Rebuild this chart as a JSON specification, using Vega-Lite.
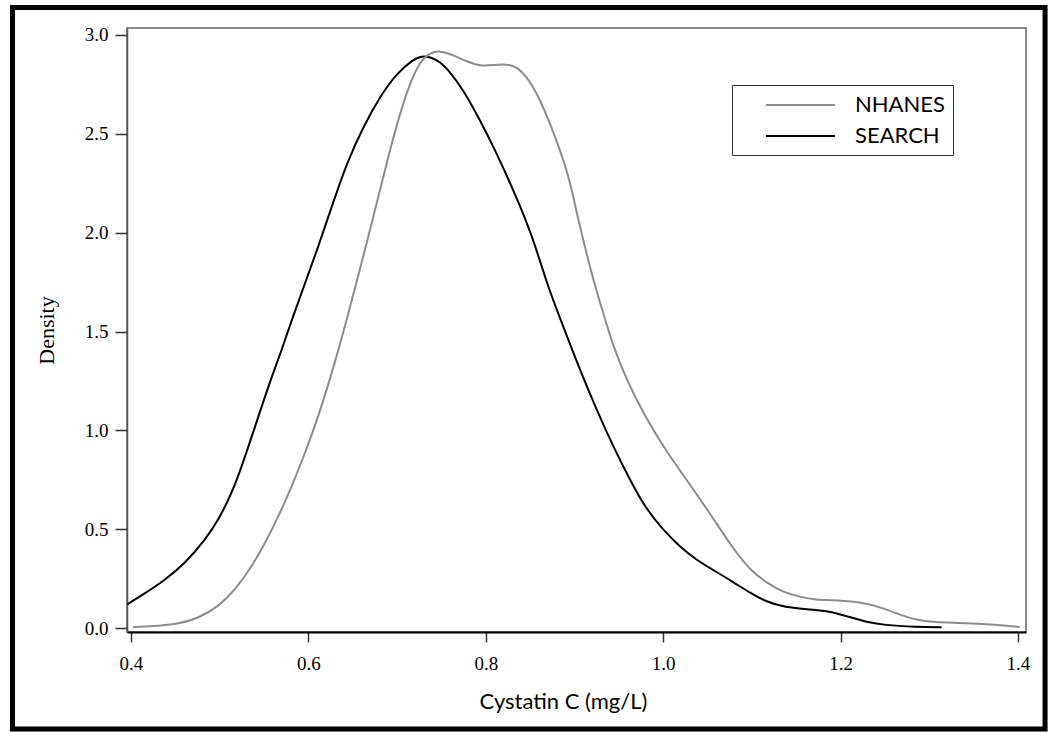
{
  "$schema": "https://vega.github.io/schema/vega-lite/v6.json",
  "width": 899,
  "height": 604,
  "autosize": {"type": "none"},
  "padding": {"left": 127, "top": 28, "right": 25, "bottom": 100},
  "background": "white",
  "config": {"view": {"stroke": "#666666", "strokeWidth": 1.5}},
  "datasets": {
    "curves": [
      {"x": 0.396, "d": 0.12, "s": "SEARCH"},
      {"x": 0.4158, "d": 0.1755, "s": "SEARCH"},
      {"x": 0.4383, "d": 0.243, "s": "SEARCH"},
      {"x": 0.4609, "d": 0.327, "s": "SEARCH"},
      {"x": 0.4834, "d": 0.445, "s": "SEARCH"},
      {"x": 0.4985, "d": 0.546, "s": "SEARCH"},
      {"x": 0.5135, "d": 0.681, "s": "SEARCH"},
      {"x": 0.5248, "d": 0.816, "s": "SEARCH"},
      {"x": 0.5361, "d": 0.968, "s": "SEARCH"},
      {"x": 0.5473, "d": 1.12, "s": "SEARCH"},
      {"x": 0.5586, "d": 1.271, "s": "SEARCH"},
      {"x": 0.5699, "d": 1.406, "s": "SEARCH"},
      {"x": 0.5812, "d": 1.558, "s": "SEARCH"},
      {"x": 0.5962, "d": 1.744, "s": "SEARCH"},
      {"x": 0.6112, "d": 1.929, "s": "SEARCH"},
      {"x": 0.6263, "d": 2.131, "s": "SEARCH"},
      {"x": 0.6432, "d": 2.351, "s": "SEARCH"},
      {"x": 0.6619, "d": 2.536, "s": "SEARCH"},
      {"x": 0.6807, "d": 2.688, "s": "SEARCH"},
      {"x": 0.6995, "d": 2.806, "s": "SEARCH"},
      {"x": 0.7183, "d": 2.877, "s": "SEARCH"},
      {"x": 0.7277, "d": 2.894, "s": "SEARCH"},
      {"x": 0.7371, "d": 2.89, "s": "SEARCH"},
      {"x": 0.7484, "d": 2.865, "s": "SEARCH"},
      {"x": 0.7596, "d": 2.814, "s": "SEARCH"},
      {"x": 0.7747, "d": 2.722, "s": "SEARCH"},
      {"x": 0.7935, "d": 2.57, "s": "SEARCH"},
      {"x": 0.8123, "d": 2.401, "s": "SEARCH"},
      {"x": 0.8311, "d": 2.216, "s": "SEARCH"},
      {"x": 0.853, "d": 1.98, "s": "SEARCH"},
      {"x": 0.8686, "d": 1.744, "s": "SEARCH"},
      {"x": 0.8874, "d": 1.524, "s": "SEARCH"},
      {"x": 0.9062, "d": 1.305, "s": "SEARCH"},
      {"x": 0.925, "d": 1.103, "s": "SEARCH"},
      {"x": 0.9438, "d": 0.917, "s": "SEARCH"},
      {"x": 0.9626, "d": 0.749, "s": "SEARCH"},
      {"x": 0.9814, "d": 0.597, "s": "SEARCH"},
      {"x": 1.0001, "d": 0.496, "s": "SEARCH"},
      {"x": 1.0189, "d": 0.411, "s": "SEARCH"},
      {"x": 1.0377, "d": 0.344, "s": "SEARCH"},
      {"x": 1.0565, "d": 0.293, "s": "SEARCH"},
      {"x": 1.079, "d": 0.233, "s": "SEARCH"},
      {"x": 1.098, "d": 0.177, "s": "SEARCH"},
      {"x": 1.117, "d": 0.132, "s": "SEARCH"},
      {"x": 1.135, "d": 0.106, "s": "SEARCH"},
      {"x": 1.173, "d": 0.091, "s": "SEARCH"},
      {"x": 1.191, "d": 0.081, "s": "SEARCH"},
      {"x": 1.21, "d": 0.056, "s": "SEARCH"},
      {"x": 1.23, "d": 0.03, "s": "SEARCH"},
      {"x": 1.248, "d": 0.015, "s": "SEARCH"},
      {"x": 1.286, "d": 0.005, "s": "SEARCH"},
      {"x": 1.314, "d": 0.004, "s": "SEARCH"},
      {"x": 0.402, "d": 0.004, "s": "NHANES"},
      {"x": 0.4496, "d": 0.015, "s": "NHANES"},
      {"x": 0.4759, "d": 0.049, "s": "NHANES"},
      {"x": 0.4985, "d": 0.108, "s": "NHANES"},
      {"x": 0.5173, "d": 0.192, "s": "NHANES"},
      {"x": 0.5361, "d": 0.31, "s": "NHANES"},
      {"x": 0.5511, "d": 0.428, "s": "NHANES"},
      {"x": 0.5661, "d": 0.563, "s": "NHANES"},
      {"x": 0.5812, "d": 0.715, "s": "NHANES"},
      {"x": 0.5962, "d": 0.884, "s": "NHANES"},
      {"x": 0.6112, "d": 1.069, "s": "NHANES"},
      {"x": 0.6263, "d": 1.288, "s": "NHANES"},
      {"x": 0.6413, "d": 1.524, "s": "NHANES"},
      {"x": 0.6696, "d": 2.013, "s": "NHANES"},
      {"x": 0.6807, "d": 2.216, "s": "NHANES"},
      {"x": 0.692, "d": 2.418, "s": "NHANES"},
      {"x": 0.7033, "d": 2.604, "s": "NHANES"},
      {"x": 0.7145, "d": 2.756, "s": "NHANES"},
      {"x": 0.7258, "d": 2.865, "s": "NHANES"},
      {"x": 0.7371, "d": 2.91, "s": "NHANES"},
      {"x": 0.7484, "d": 2.921, "s": "NHANES"},
      {"x": 0.7635, "d": 2.899, "s": "NHANES"},
      {"x": 0.7785, "d": 2.865, "s": "NHANES"},
      {"x": 0.7935, "d": 2.843, "s": "NHANES"},
      {"x": 0.8085, "d": 2.848, "s": "NHANES"},
      {"x": 0.8236, "d": 2.853, "s": "NHANES"},
      {"x": 0.8349, "d": 2.84, "s": "NHANES"},
      {"x": 0.8498, "d": 2.772, "s": "NHANES"},
      {"x": 0.8649, "d": 2.637, "s": "NHANES"},
      {"x": 0.8799, "d": 2.469, "s": "NHANES"},
      {"x": 0.8949, "d": 2.267, "s": "NHANES"},
      {"x": 0.9025, "d": 2.098, "s": "NHANES"},
      {"x": 0.9118, "d": 1.929, "s": "NHANES"},
      {"x": 0.9212, "d": 1.761, "s": "NHANES"},
      {"x": 0.9325, "d": 1.592, "s": "NHANES"},
      {"x": 0.9438, "d": 1.423, "s": "NHANES"},
      {"x": 0.9588, "d": 1.255, "s": "NHANES"},
      {"x": 0.9776, "d": 1.086, "s": "NHANES"},
      {"x": 1.0001, "d": 0.917, "s": "NHANES"},
      {"x": 1.0265, "d": 0.749, "s": "NHANES"},
      {"x": 1.0528, "d": 0.58, "s": "NHANES"},
      {"x": 1.079, "d": 0.4, "s": "NHANES"},
      {"x": 1.098, "d": 0.293, "s": "NHANES"},
      {"x": 1.117, "d": 0.228, "s": "NHANES"},
      {"x": 1.135, "d": 0.182, "s": "NHANES"},
      {"x": 1.154, "d": 0.157, "s": "NHANES"},
      {"x": 1.173, "d": 0.142, "s": "NHANES"},
      {"x": 1.191, "d": 0.142, "s": "NHANES"},
      {"x": 1.222, "d": 0.132, "s": "NHANES"},
      {"x": 1.248, "d": 0.101, "s": "NHANES"},
      {"x": 1.267, "d": 0.066, "s": "NHANES"},
      {"x": 1.286, "d": 0.04, "s": "NHANES"},
      {"x": 1.304, "d": 0.03, "s": "NHANES"},
      {"x": 1.342, "d": 0.025, "s": "NHANES"},
      {"x": 1.38, "d": 0.015, "s": "NHANES"},
      {"x": 1.402, "d": 0.005, "s": "NHANES"}
    ]
  },
  "data": {"name": "curves"},
  "layer": [
    {
      "data": {"values": [{"frame": "outer"}]},
      "mark": {"type": "rect", "filled": false, "stroke": "black", "strokeWidth": 5, "clip": false},
      "encoding": {
        "x": {"datum": 0.2664},
        "x2": {"datum": 1.4306},
        "y": {"datum": 3.139},
        "y2": {"datum": -0.511}
      }
    },
    {
      "mark": {"type": "line", "strokeWidth": 2, "interpolate": "basis"},
      "encoding": {
        "x": {
          "field": "x",
          "type": "quantitative",
          "title": "Cystatin C (mg/L)",
          "scale": {"domain": [0.3955, 1.4091], "nice": false, "zero": false},
          "axis": {
            "values": [0.4, 0.6, 0.8, 1.0, 1.2, 1.4],
            "format": ".1f",
            "grid": false,
            "domainColor": "#000000",
            "domainWidth": 2,
            "tickColor": "#333333",
            "tickSize": 10,
            "tickWidth": 1.5,
            "labelFont": "Liberation Serif",
            "labelFontSize": 19,
            "labelColor": "#000000",
            "labelPadding": 12,
            "titleFont": "Lato",
            "titleFontSize": 22,
            "titleFontWeight": "normal",
            "titleColor": "#000000",
            "titlePadding": 18,
            "titleX": 436
          }
        },
        "y": {
          "field": "d",
          "type": "quantitative",
          "title": "Density",
          "scale": {"domain": [-0.0202, 3.0354], "nice": false, "zero": false},
          "axis": {
            "values": [0, 0.5, 1.0, 1.5, 2.0, 2.5, 3.0],
            "format": ".1f",
            "grid": false,
            "domainColor": "#555555",
            "domainWidth": 1.5,
            "tickColor": "#333333",
            "tickSize": 12,
            "tickWidth": 1.5,
            "labelFont": "Liberation Serif",
            "labelFontSize": 19,
            "labelColor": "#000000",
            "labelPadding": 7,
            "titleFont": "Liberation Serif",
            "titleFontSize": 22,
            "titleFontWeight": "normal",
            "titleColor": "#000000",
            "titlePadding": 26
          }
        },
        "color": {
          "field": "s",
          "type": "nominal",
          "scale": {"domain": ["NHANES", "SEARCH"], "range": ["#8c8c8c", "#000000"]},
          "legend": {
            "orient": "none",
            "legendX": 605,
            "legendY": 57,
            "title": null,
            "strokeColor": "#333333",
            "padding": 7.5,
            "symbolType": "M-3,0H3",
            "symbolSize": 529,
            "symbolStrokeWidth": 2,
            "symbolOffset": 48.5,
            "labelFont": "Lato",
            "labelFontSize": 22,
            "labelColor": "#000000",
            "labelOffset": 42,
            "rowPadding": 7
          }
        }
      }
    }
  ]
}
